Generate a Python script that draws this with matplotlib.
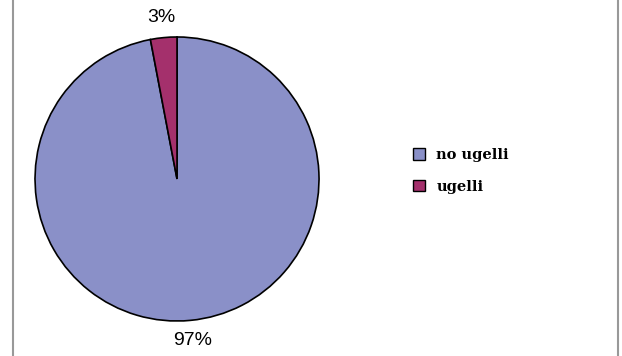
import matplotlib.pyplot as plt
from matplotlib.lines import Line2D

labels = ["no ugelli", "ugelli"]
values = [97, 3]
colors = ["#8a90c8", "#a4306c"]

fig = plt.figure(figsize=(6.22, 3.56), dpi=100)
ax = fig.add_axes([0.0563, 0.0983, 0.4566, 0.7978])

wedges, texts, autotexts = ax.pie(values, colors=colors, startangle=90, counterclock=False,
                                  autopct="%1.0f%%", pctdistance=1.14,
                                  wedgeprops=dict(edgecolor="black", linewidth=1.2),
                                  textprops=dict(fontsize=14, family="Liberation Sans"))
ax.set_xlim(-1, 1)
ax.set_ylim(-1, 1)
ax.set_aspect("equal")

fig.legend(wedges, labels, loc="center left", bbox_to_anchor=(0.643, 0.52),
           frameon=False, handlelength=0.8, handleheight=0.8, labelspacing=1.2,
           prop=dict(family="DejaVu Serif", weight="bold", size=10.5))
for h in fig.legends[0].legend_handles:
    h.set_edgecolor("black")
    h.set_linewidth(1)

# vertical border lines on both sides
fig.add_artist(Line2D([12.5 / 622, 12.5 / 622], [0, 1], color="#999999", linewidth=1.5))
fig.add_artist(Line2D([617.5 / 622, 617.5 / 622], [0, 1], color="#999999", linewidth=1.5))

fig.savefig("out.png", dpi=100)
